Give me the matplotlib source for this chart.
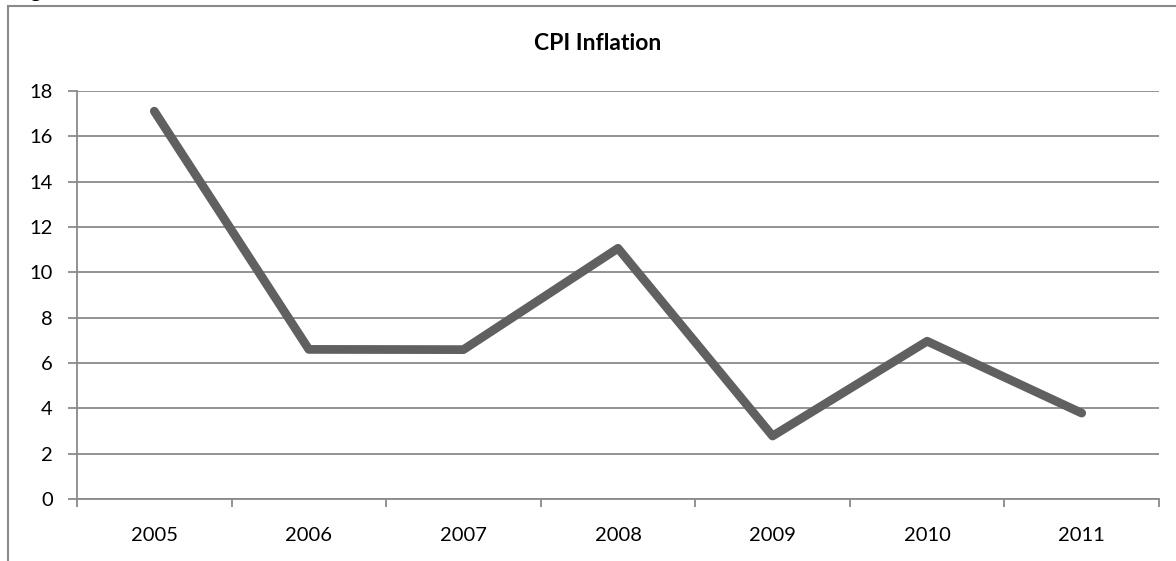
import matplotlib.pyplot as plt
from matplotlib.patches import Rectangle

plt.rcParams['font.family'] = ['Lato', 'DejaVu Sans']

years = ['2005', '2006', '2007', '2008', '2009', '2010', '2011']
cpi_inflation = [17.11, 6.60, 6.59, 11.06, 2.78, 6.96, 3.79]
y_ticks = [0, 2, 4, 6, 8, 10, 12, 14, 16, 18]

W, H = 1176, 561
fig = plt.figure(figsize=(W / 100, H / 100), dpi=100)

# caption of the figure, mostly cut off at the top of the page
fig.text(12 / W, 1 + 3 / H, 'Figure 3.4 Indonesia Inflation', fontsize=16,
         fontweight='bold', ha='left', va='baseline', color='black')

# chart frame (runs off the right and bottom edges)
fig.patches.append(Rectangle((8 / W, -0.1), 1.2, 1 - 6 / H + 0.1,
                             transform=fig.transFigure, fill=False,
                             edgecolor='#8a8a8a', linewidth=1.5))

ax = fig.add_axes([77 / W, 1 - 499 / H, (1159 - 77) / W, (499 - 91) / H])

x = range(len(years))
ax.plot(x, cpi_inflation, color='#606060', linewidth=6.3,
        solid_capstyle='round', solid_joinstyle='round', zorder=3)

ax.set_xlim(-0.5, len(years) - 0.5)
ax.set_ylim(0, 18)
ax.set_yticks(y_ticks)
ax.set_yticklabels([str(v) for v in y_ticks], fontsize=14.5)
ax.yaxis.grid(True, color='#8a8a8a', linewidth=1.3)
ax.set_axisbelow(True)

# category labels centred, tick marks between categories
ax.set_xticks([i - 0.5 for i in range(len(years) + 1)])
ax.set_xticklabels([])
ax.tick_params(axis='x', length=6, width=1.3, color='#8a8a8a', direction='out')
ax.tick_params(axis='y', length=6.5, width=1.3, color='#8a8a8a', pad=11)
for i, yr in enumerate(years):
    ax.text(i, -1.6, yr, ha='center', va='center', fontsize=14.5)

for s in ['top', 'right']:
    ax.spines[s].set_visible(False)
for s in ['left', 'bottom']:
    ax.spines[s].set_color('#8a8a8a')
    ax.spines[s].set_linewidth(1.3)

fig.text(598 / W, 1 - 44 / H, 'CPI Inflation', ha='center',
         va='center', fontsize=16.5, fontweight='bold')

fig.savefig('out.png', dpi=100)
